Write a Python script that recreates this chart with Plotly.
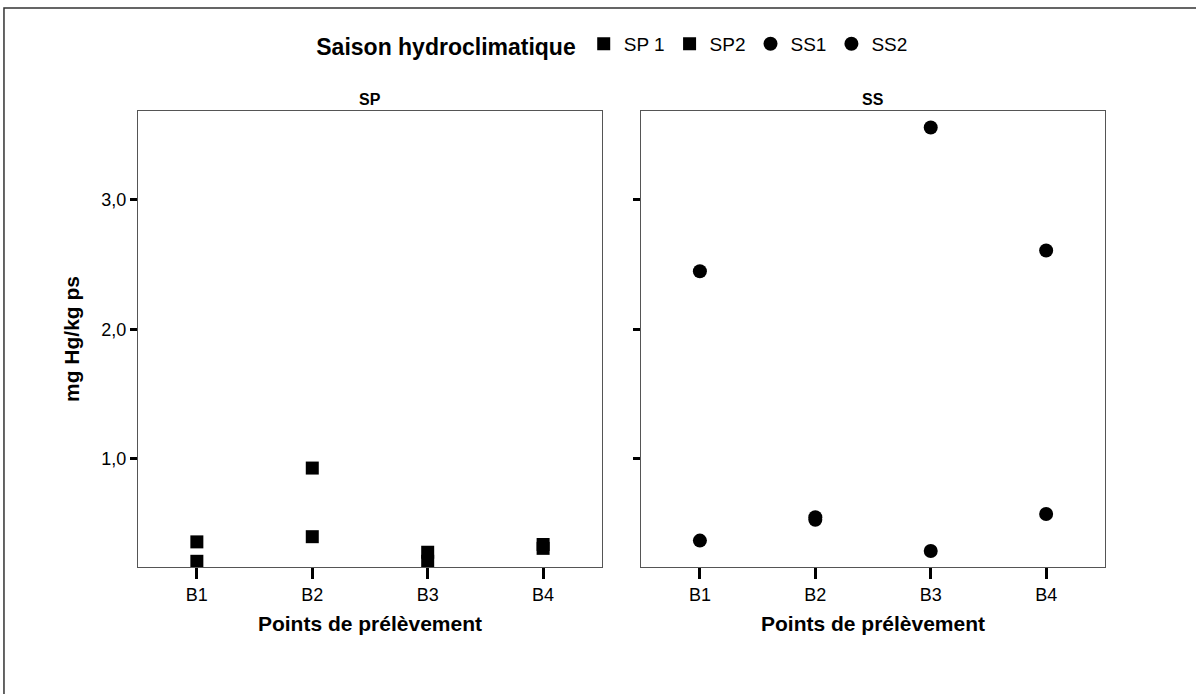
import plotly.graph_objects as go
from plotly.subplots import make_subplots

points = ["B1", "B2", "B3", "B4"]
sp1 = [0.36, 0.93, 0.28, 0.34]
sp2 = [0.21, 0.40, 0.21, 0.31]
ss1 = [2.45, 0.55, 3.56, 2.61]
ss2 = [0.37, 0.53, 0.29, 0.575]
y_ticks = [1.0, 2.0, 3.0]
y_tick_labels = ["1,0", "2,0", "3,0"]

FONT = "Arial, Liberation Sans, sans-serif"

fig = make_subplots(rows=1, cols=2, shared_yaxes=True, horizontal_spacing=0.0404)

fig.add_trace(go.Scatter(x=points, y=sp1, mode="markers", name="SP 1",
                         marker=dict(symbol="square", size=13, color="black")), row=1, col=1)
fig.add_trace(go.Scatter(x=points, y=sp2, mode="markers", name="SP2",
                         marker=dict(symbol="square", size=13, color="black")), row=1, col=1)
fig.add_trace(go.Scatter(x=points, y=ss1, mode="markers", name="SS1",
                         marker=dict(symbol="circle", size=14, color="black")), row=1, col=2)
fig.add_trace(go.Scatter(x=points, y=ss2, mode="markers", name="SS2",
                         marker=dict(symbol="circle", size=14, color="black")), row=1, col=2)

axis_common = dict(showline=True, linecolor="#555", linewidth=1, mirror=True,
                   showgrid=False, zeroline=False, ticks="outside", tickcolor="black")

for c in (1, 2):
    fig.update_xaxes(type="category", categoryorder="array", categoryarray=points,
                     range=[-0.51, 3.51], ticklen=11, tickwidth=3,
                     title=dict(text="<b>Points de prélèvement</b>", font=dict(size=21, color="black"),
                                standoff=12),
                     tickfont=dict(size=18, color="black"), row=1, col=c, **axis_common)
    fig.update_yaxes(range=[0.166, 3.687], tickvals=y_ticks, ticktext=y_tick_labels,
                     ticklen=7, tickwidth=2.5,
                     tickfont=dict(size=18, color="black"), row=1, col=c, **axis_common)

fig.update_yaxes(title=dict(text="<b>mg Hg/kg ps</b>", font=dict(size=21, color="black"),
                            standoff=16), row=1, col=1)
fig.update_yaxes(showticklabels=False, row=1, col=2)

fig.add_annotation(text="<b>SP</b>", xref="x domain", yref="paper", x=0.5, y=1.0,
                   yanchor="bottom", yshift=1, showarrow=False, font=dict(size=16, color="black"))
fig.add_annotation(text="<b>SS</b>", xref="x2 domain", yref="paper", x=0.5, y=1.0,
                   yanchor="bottom", yshift=1, showarrow=False, font=dict(size=16, color="black"))

# outer frame
fig.add_shape(type="rect", xref="paper", yref="paper",
              x0=-0.1386, y0=-0.6, x1=1.2, y1=1.2259,
              line=dict(color="#333", width=1.5), fillcolor="rgba(0,0,0,0)", layer="below")

fig.update_layout(
    width=1196, height=694,
    margin=dict(l=138, r=91, t=111, b=127),
    paper_bgcolor="white", plot_bgcolor="white",
    font=dict(family=FONT, color="black"),
    showlegend=True,
    legend=dict(orientation="h", x=0.492, xanchor="center", y=1.145, yanchor="middle",
                title=dict(text="<b>Saison hydroclimatique</b>", font=dict(size=23, color="black")),
                font=dict(size=19, color="black"),
                bgcolor="rgba(0,0,0,0)"),
)

fig.write_html("out.html", config={"displayModeBar": False},
               post_script="document.body.style.margin='0';")
